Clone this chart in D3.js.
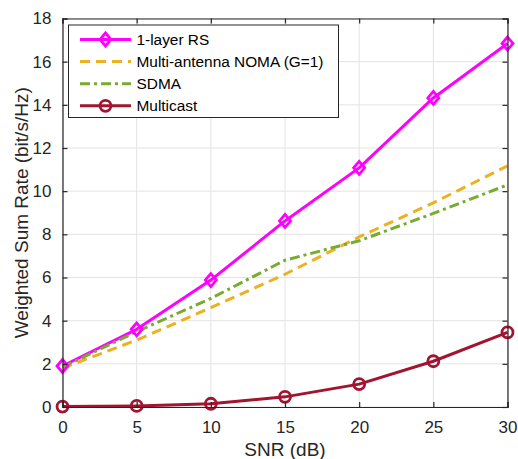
<!DOCTYPE html>
<html><head><meta charset="utf-8">
<script src="https://cdn.jsdelivr.net/npm/d3@7"></script>
<style>
html,body{margin:0;padding:0;background:#fff;}
svg{display:block;font-family:"Liberation Sans",Arial,Helvetica,sans-serif;}
</style></head>
<body>
<svg id="chart" width="518" height="459"></svg>
<script>
const snr = [0, 5, 10, 15, 20, 25, 30];
const rs1 = [1.9, 3.6, 5.88, 8.62, 11.08, 14.32, 16.84];
const noma = [1.8, 3.1, 4.6, 6.15, 7.88, 9.46, 11.17];
const sdma = [1.85, 3.49, 5.03, 6.8, 7.7, 8.97, 10.29];
const multicast = [0.02, 0.05, 0.15, 0.47, 1.06, 2.12, 3.46];
const xTicks = [0, 5, 10, 15, 20, 25, 30];
const yTicks = [0, 2, 4, 6, 8, 10, 12, 14, 16, 18];
const seriesNames = ["1-layer RS", "Multi-antenna NOMA (G=1)", "SDMA", "Multicast"];

const series = [
  {name: seriesNames[0], values: rs1, color: "#FF00FF", dash: null, marker: "diamond"},
  {name: seriesNames[1], values: noma, color: "#EDB120", dash: "10,6", marker: null},
  {name: seriesNames[2], values: sdma, color: "#77AC30", dash: "10,4,3,4", marker: null},
  {name: seriesNames[3], values: multicast, color: "#A2142F", dash: null, marker: "circle"}
];

const svg = d3.select("#chart");
const L = 62.5, R = 507.5, T = 18.5, B = 407;
const x = d3.scaleLinear().domain([0, 30]).range([L, R]);
const y = d3.scaleLinear().domain([0, 18]).range([B, T]);
const axisColor = "#262626";

// grid
const g = svg.append("g");
g.selectAll(".gx").data(xTicks).enter().append("line")
  .attr("x1", d => x(d)).attr("x2", d => x(d)).attr("y1", T).attr("y2", B)
  .attr("stroke", "#e3e3e3").attr("stroke-width", 1);
g.selectAll(".gy").data(yTicks).enter().append("line")
  .attr("y1", d => y(d)).attr("y2", d => y(d)).attr("x1", L).attr("x2", R)
  .attr("stroke", "#e3e3e3").attr("stroke-width", 1);

// lines
const lineGen = vals => d3.line().x((d, i) => x(snr[i])).y(d => y(d))(vals);
series.forEach(s => {
  svg.append("path").attr("d", lineGen(s.values))
    .attr("fill", "none").attr("stroke", s.color).attr("stroke-width", 3)
    .attr("stroke-linejoin", "round")
    .attr("stroke-dasharray", s.dash);
});

function drawMarker(sel, type, cx, cy, color) {
  if (type === "diamond") {
    const h = 6.5, w = 5.5;
    sel.append("path")
      .attr("d", `M${cx},${cy - h}L${cx + w},${cy}L${cx},${cy + h}L${cx - w},${cy}Z`)
      .attr("fill", "none").attr("stroke", color).attr("stroke-width", 2.8);
  } else if (type === "circle") {
    sel.append("circle").attr("cx", cx).attr("cy", cy).attr("r", 5.5)
      .attr("fill", "none").attr("stroke", color).attr("stroke-width", 2.8);
  }
}
series.forEach(s => {
  if (!s.marker) return;
  s.values.forEach((v, i) => drawMarker(svg, s.marker, x(snr[i]), y(v), s.color));
});

// axes box
const ax = svg.append("g");
const xAxis = d3.axisBottom(x).tickValues(xTicks).tickSize(-5).tickPadding(14);
const yAxis = d3.axisLeft(y).tickValues(yTicks).tickSize(-5).tickPadding(11);
const xa = ax.append("g").attr("transform", `translate(0,${B})`).call(xAxis);
const ya = ax.append("g").attr("transform", `translate(${L},0)`).call(yAxis);
const xt = ax.append("g").attr("transform", `translate(0,${T})`).call(d3.axisTop(x).tickValues(xTicks).tickSize(-5).tickFormat(""));
const yr = ax.append("g").attr("transform", `translate(${R},0)`).call(d3.axisRight(y).tickValues(yTicks).tickSize(-5).tickFormat(""));
[xa, ya, xt, yr].forEach(a => {
  a.selectAll("path.domain").attr("stroke", axisColor).attr("stroke-width", 1.2);
  a.selectAll(".tick line").attr("stroke", axisColor).attr("stroke-width", 1.2);
  a.selectAll(".tick text").attr("fill", axisColor).attr("font-size", 17)
    .attr("font-family", "Liberation Sans, Arial, sans-serif");
});

// axis labels
svg.append("text").attr("x", (L + R) / 2).attr("y", 456).attr("text-anchor", "middle")
  .attr("font-size", 19).attr("fill", axisColor).text("SNR (dB)");
svg.append("text").attr("transform", `translate(28,${(T + B) / 2 + 0}) rotate(-90)`)
  .attr("text-anchor", "middle").attr("font-size", 19).attr("fill", axisColor)
  .text("Weighted Sum Rate (bit/s/Hz)");

// legend
const lg = svg.append("g");
lg.append("rect").attr("x", 68.5).attr("y", 25).attr("width", 270).attr("height", 92.5)
  .attr("fill", "#fff").attr("stroke", axisColor).attr("stroke-width", 1);
series.forEach((s, i) => {
  const cy = 39.5 + i * 22.1;
  lg.append("line").attr("x1", 80).attr("x2", 131).attr("y1", cy).attr("y2", cy)
    .attr("stroke", s.color).attr("stroke-width", 3).attr("stroke-dasharray", s.dash);
  if (s.marker) drawMarker(lg, s.marker, 105.5, cy, s.color);
  lg.append("text").attr("x", 136.5).attr("y", cy + 5.5).attr("font-size", 15.4)
    .attr("fill", "#000").text(s.name);
});
</script>
</body></html>
